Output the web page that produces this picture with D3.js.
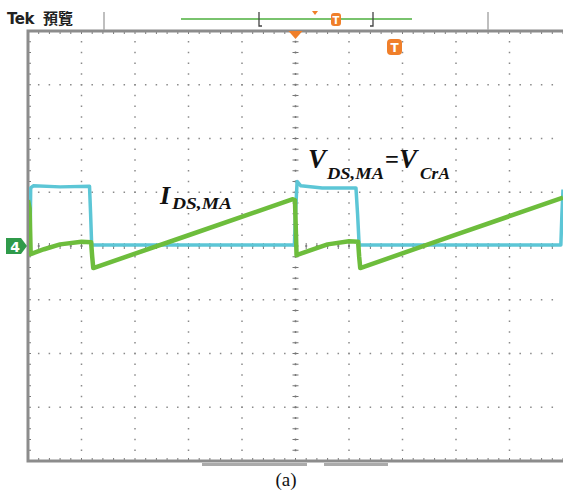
<!DOCTYPE html>
<html><head><meta charset="utf-8">
<script src="https://cdn.jsdelivr.net/npm/d3@7/dist/d3.min.js"></script>
<style>html,body{margin:0;padding:0;background:#fff;overflow:hidden}svg{display:block}</style>
</head><body>
<script>
// ---- data (time in divisions 0..10, amplitude in divisions -4..4) ----
const xDivs = [0,1,2,3,4,5,6,7,8,9,10];
const yDivs = [-4,-3,-2,-1,0,1,2,3,4];
// cyan channel (V_DS,MA = V_CrA)
const cyanT = [0.00, 0.04, 0.05, 0.10, 0.60, 1.15, 1.17, 1.19, 2.5, 4.0, 4.98, 5.00, 5.03, 5.10, 5.50, 6.13, 6.16, 6.19, 7.5, 9.0, 9.96, 9.98, 10.0];
const cyanV = [0.00, 0.10, 1.08, 1.12, 1.10, 1.11, 0.60, 0.02, 0.02, 0.02, 0.02, 0.60, 1.20, 1.12, 1.08, 1.08, 0.60, 0.02, 0.02, 0.02, 0.02, 0.60, 1.05];
// green channel (I_DS,MA)
const greenT = [0.00, 0.03, 0.05, 0.30, 0.60, 1.00, 1.18, 1.20, 1.22, 3.00, 4.95, 4.99, 5.02, 5.30, 5.60, 6.00, 6.17, 6.19, 6.21, 8.00, 10.0];
const greenV = [0.85, 0.70, -0.15, -0.06, 0.03, 0.08, 0.07, -0.20, -0.41, 0.20, 0.87, 0.85, -0.17, -0.07, 0.03, 0.09, 0.08, -0.20, -0.41, 0.21, 0.90];
const figLabel = "(a)";

const W = 563, H = 490;
const svg = d3.select("body").append("svg").attr("width", W).attr("height", H);
const x = d3.scaleLinear().domain([0,10]).range([28, 563]);
const y = d3.scaleLinear().domain([-4,4]).range([461, 31]);
const minor = d3.range(0, 50.001, 1).map(d => d/5);
const minorY = d3.range(-20, 20.001, 1).map(d => d/5);

const g = svg.append("g");
// grid dots
const dotCol = "#8a8a8a";
xDivs.slice(1,-1).forEach(xd => {
  if (xd === 5) return;
  minorY.forEach(yd => {
    if (Math.abs(yd) === 4) return;
    g.append("rect").attr("x", x(xd)-0.75).attr("y", y(yd)-0.75).attr("width",1.5).attr("height",1.5).attr("fill",dotCol);
  });
});
yDivs.slice(1,-1).forEach(yd => {
  if (yd === 0) return;
  minor.forEach(xd => {
    if (xd === 0 || xd === 10) return;
    g.append("rect").attr("x", x(xd)-0.75).attr("y", y(yd)-0.75).attr("width",1.5).attr("height",1.5).attr("fill",dotCol);
  });
});
// center axes with ticks
minorY.forEach(yd => {
  if (Math.abs(yd) === 4) return;
  g.append("line").attr("x1", x(5)-3).attr("x2", x(5)+3).attr("y1", y(yd)).attr("y2", y(yd)).attr("stroke","#777").attr("stroke-width",1);
  g.append("rect").attr("x", x(5)-0.75).attr("y", y(yd)-1).attr("width",1.5).attr("height",2).attr("fill","#777");
});
minor.forEach(xd => {
  if (xd === 0 || xd === 10) return;
  g.append("line").attr("x1", x(xd)).attr("x2", x(xd)).attr("y1", y(0)-3).attr("y2", y(0)+3).attr("stroke","#777").attr("stroke-width",1);
  g.append("rect").attr("x", x(xd)-1).attr("y", y(0)-0.75).attr("width",2).attr("height",1.5).attr("fill","#777");
});
// frame ticks
minor.forEach(xd => {
  const L = 3;
  g.append("line").attr("x1", x(xd)).attr("x2", x(xd)).attr("y1", y(4)).attr("y2", y(4)+L).attr("stroke","#777");
  g.append("line").attr("x1", x(xd)).attr("x2", x(xd)).attr("y1", y(-4)).attr("y2", y(-4)-L).attr("stroke","#777");
});
minorY.forEach(yd => {
  g.append("line").attr("x1", x(0)).attr("x2", x(0)+3).attr("y1", y(yd)).attr("y2", y(yd)).attr("stroke","#777");
});
// frame
g.append("rect").attr("x", x(0)).attr("y", y(4)).attr("width", x(10)-x(0)+2).attr("height", y(-4)-y(4))
  .attr("fill","none").attr("stroke","#8c8c8c").attr("stroke-width",3);

// waveforms
const line = d3.line().x(d=>x(d[0])).y(d=>y(d[1]));
const cyanData = cyanT.map((t,i)=>[t, cyanV[i]]);
const greenData = greenT.map((t,i)=>[t, greenV[i]]);
svg.append("clipPath").attr("id","cp").append("rect").attr("x", x(0)+1).attr("y", y(4)).attr("width", x(10)-x(0)).attr("height", y(-4)-y(4));
const wf = svg.append("g").attr("clip-path","url(#cp)");
wf.append("path").datum(cyanData).attr("d", line).attr("fill","none").attr("stroke","#5cc6d6").attr("stroke-width",3.5).attr("stroke-linejoin","round");
wf.append("path").datum(greenData).attr("d", line).attr("fill","none").attr("stroke","#6dbd3c").attr("stroke-width",4.5).attr("stroke-linejoin","round");

// top bar
svg.append("text").attr("x", 7).attr("y", 24).attr("font-family","DejaVu Sans, sans-serif").attr("font-weight","bold").attr("font-size",15).attr("fill","#222").attr("letter-spacing",-0.5).text("Tek");
svg.append("text").attr("x", 43).attr("y", 24).attr("font-family","Noto Sans CJK TC, sans-serif").attr("font-weight","bold").attr("font-size",15).attr("fill","#222").text("預覽");
[104, 488].forEach(xx => svg.append("line").attr("x1",xx).attr("x2",xx).attr("y1",12).attr("y2",30).attr("stroke","#aaa").attr("stroke-width",1.5));
svg.append("line").attr("x1",181).attr("x2",412).attr("y1",19).attr("y2",19).attr("stroke","#79c36d").attr("stroke-width",2);
svg.append("path").attr("d","M259,12 V26 H262").attr("fill","none").attr("stroke","#444").attr("stroke-width",1.3);
svg.append("path").attr("d","M373,12 V26 H370").attr("fill","none").attr("stroke","#444").attr("stroke-width",1.3);
const orange = "#f07f2a";
svg.append("path").attr("d","M312,11 L318,11 L315,15 Z").attr("fill",orange);
svg.append("rect").attr("x",331).attr("y",13).attr("width",10).attr("height",13).attr("rx",3).attr("fill",orange);
svg.append("text").attr("x",336).attr("y",24).attr("text-anchor","middle").attr("font-family","DejaVu Sans, sans-serif").attr("font-weight","bold").attr("font-size",10).attr("fill","#fff").text("T");
svg.append("path").attr("d",`M${x(5)-7},31 L${x(5)+7},31 L${x(5)},39 Z`).attr("fill",orange);
svg.append("rect").attr("x",387).attr("y",39).attr("width",15).attr("height",16).attr("rx",4).attr("fill",orange);
svg.append("text").attr("x",394.5).attr("y",52).attr("text-anchor","middle").attr("font-family","DejaVu Sans, sans-serif").attr("font-weight","bold").attr("font-size",12).attr("fill","#fff").text("T");

// channel 4 marker
svg.append("path").attr("d",`M6,${y(0)-8} H21 L27,${y(0)} L21,${y(0)+8} H6 Z`).attr("fill","#2f9a4a");
svg.append("text").attr("x",15).attr("y",y(0)+6).attr("text-anchor","middle").attr("font-family","DejaVu Sans, sans-serif").attr("font-weight","bold").attr("font-size",14).attr("fill","#fff").text("4");

// bottom bars
svg.append("rect").attr("x",202).attr("y",463).attr("width",105).attr("height",3).attr("fill","#aaa");
svg.append("rect").attr("x",324).attr("y",463).attr("width",64).attr("height",3).attr("fill","#aaa");

// annotations
const serif = "Liberation Serif, Times New Roman, serif";
function lab(txt, xx, yy, size, len, italic) {
  const t = svg.append("text").attr("x", xx).attr("y", yy).attr("font-family", serif)
    .attr("font-style", italic === false ? "normal" : "italic").attr("font-weight","bold").attr("font-size", size).attr("fill","#111").text(txt);
  if (len) t.attr("textLength", len).attr("lengthAdjust","spacingAndGlyphs");
  return t;
}
lab("I", 160, 204, 26);
lab("DS,MA", 172, 209, 17, 60);
lab("V", 308, 168, 27);
lab("DS,MA", 327, 179, 16, 57);
lab("=", 385, 168, 26, 14, false);
lab("V", 399, 168, 27);
lab("CrA", 420, 179, 16, 30);

svg.append("text").attr("x",286).attr("y",486).attr("text-anchor","middle").attr("font-family",serif).attr("font-size",19).attr("fill","#111").text(figLabel);
</script>
</body></html>
